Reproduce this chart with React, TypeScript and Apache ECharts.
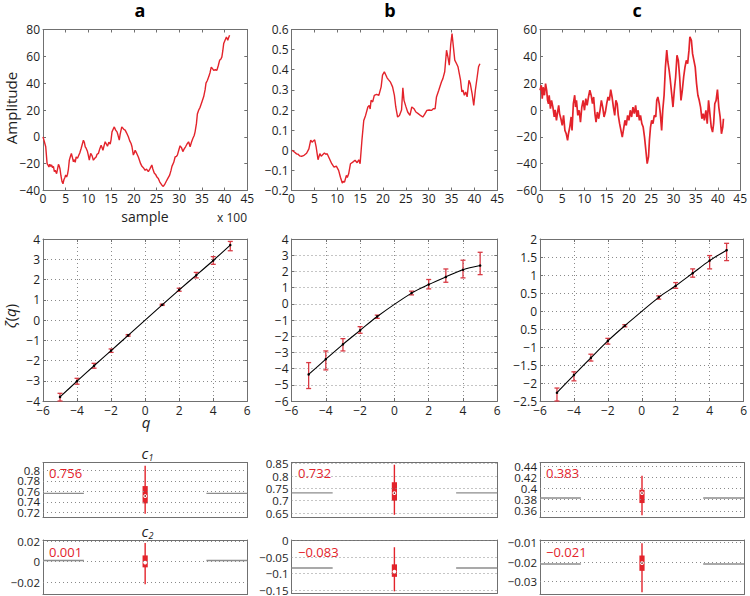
import React, { useEffect, useRef } from "react";
import * as echarts from "echarts";

// ---------- top row: amplitude vs sample (x 100) ----------
const sampleTicks = [0, 45, 5];
const seriesA: number[][] = [
  [0, 0], [0.3, -3.7], [0.6, -7.4], [0.9, -20], [1.1, -21], [1.3, -22.5], [1.5, -20.5], [1.7, -22], [1.9, -21], [2.1, -23],
  [2.3, -22], [2.5, -26], [2.7, -25], [3, -27.5], [3.2, -24], [3.4, -20.5], [3.6, -22], [3.75, -24], [3.95, -29], [4.2, -33.5],
  [4.4, -35], [4.6, -32], [4.8, -30.5], [5, -28.5], [5.2, -30], [5.4, -28], [5.6, -24], [5.8, -17.4], [6, -15], [6.25, -12.4],
  [6.45, -15], [6.7, -18.6], [6.9, -17], [7.1, -19], [7.3, -15], [7.6, -16], [7.9, -13.6], [8.1, -12], [8.4, -8.7], [8.7, -5],
  [8.9, -2.5], [9.1, -4], [9.3, -7.4], [9.5, -8.5], [9.8, -11], [10, -14], [10.2, -17.4], [10.5, -12.4], [10.8, -14], [11.1, -17.4],
  [11.4, -16], [11.7, -15], [11.9, -13], [12.2, -12.4], [12.5, -9], [12.8, -6.2], [13, -8], [13.2, -10], [13.5, -6], [13.7, -3.7],
  [13.9, -5], [14.2, -7], [14.5, -4], [14.8, -5.5], [15, -2], [15.2, 3.7], [15.5, 6], [15.7, 7.4], [16, 5], [16.3, 3.7],
  [16.5, 1.5], [16.8, -2.5], [17, 2], [17.35, 7.4], [17.6, 6.5], [17.8, 5.5], [18.1, 5], [18.4, 3], [18.8, 0], [19.1, -3],
  [19.4, -5], [19.6, -7.4], [19.9, -13.6], [20.1, -12], [20.3, -10], [20.6, -12], [21, -15], [21.3, -18], [21.5, -20], [21.8, -22],
  [22.1, -23], [22.5, -25], [22.8, -24], [23.2, -26], [23.6, -23.5], [23.97, -21], [24.2, -24], [24.5, -27], [24.8, -28], [25.1, -30],
  [25.4, -31], [25.7, -33.5], [26, -35], [26.2, -36], [26.5, -37], [26.8, -35.5], [27.1, -33.5], [27.5, -31], [27.9, -28.5], [28.2, -25],
  [28.4, -22], [28.8, -19], [29.1, -15], [29.4, -14.5], [29.6, -13.6], [29.9, -10], [30.2, -6.7], [30.5, -8], [30.8, -11], [31.1, -9],
  [31.4, -7.4], [31.7, -5.5], [32.06, -3.7], [32.2, -5], [32.4, -7.4], [32.7, -4], [33, -1.2], [33.3, 1], [33.5, 3.7], [33.8, 10],
  [34, 17], [34.3, 20], [34.6, 22], [35, 26], [35.4, 30], [35.7, 35], [35.9, 40], [36.2, 42], [36.5, 44.7], [36.8, 48],
  [37.06, 52], [37.3, 51], [37.6, 49.6], [38, 50], [38.3, 49.6], [38.6, 53], [38.9, 57], [39.2, 58], [39.4, 59.6], [39.6, 64],
  [39.8, 69.5], [40.1, 72], [40.4, 74.4], [40.7, 72], [40.9, 74], [41.1, 75.7],
];
const seriesB: number[][] = [
  [0.1, 0.0], [0.4, -0.005], [0.7, -0.01], [1.1, -0.018], [1.45, -0.02], [1.8, -0.028], [2.2, -0.03], [2.75, -0.025], [3.3, -0.015], [3.8, 0.007],
  [4.2, 0.05], [4.5, 0.04], [4.7, 0.045], [5.07, 0.052], [5.4, 0.015], [5.8, -0.047], [6.2, -0.017], [6.5, -0.03], [6.7, -0.025], [7.2, -0.014],
  [7.5, -0.02], [7.8, -0.017], [8.3, -0.042], [8.8, -0.067], [9.3, -0.084], [9.8, -0.079], [10.3, -0.1], [10.7, -0.134], [11.1, -0.163], [11.3, -0.155],
  [11.6, -0.158], [12, -0.125], [12.2, -0.135], [12.5, -0.117], [12.9, -0.067], [13.4, -0.059], [13.9, -0.05], [14.35, -0.062], [14.7, -0.047], [15, -0.067],
  [15.4, 0.05], [15.8, 0.148], [16.2, 0.173], [16.7, 0.215], [17.0, 0.223], [17.2, 0.205], [17.4, 0.248], [17.75, 0.24], [18.1, 0.273], [18.6, 0.278],
  [19.1, 0.273], [19.6, 0.315], [19.9, 0.373], [20.3, 0.39], [20.65, 0.373], [20.9, 0.36], [21.2, 0.351], [21.6, 0.34], [22.1, 0.315], [22.5, 0.273],
  [22.8, 0.215], [23.2, 0.165], [23.6, 0.173], [24.06, 0.2], [24.35, 0.31], [24.6, 0.248], [25, 0.218], [25.4, 0.19], [25.9, 0.173], [26.3, 0.215],
  [26.8, 0.206], [27.2, 0.19], [27.7, 0.182], [28.2, 0.173], [28.7, 0.165], [29.1, 0.178], [29.6, 0.198], [30.1, 0.2], [30.6, 0.198], [31.0, 0.206],
  [31.4, 0.206], [31.7, 0.265], [32.2, 0.298], [32.8, 0.34], [33.1, 0.356], [33.5, 0.39], [33.9, 0.497], [34.2, 0.464], [34.5, 0.423], [34.8, 0.522],
  [35.1, 0.58], [35.4, 0.514], [35.7, 0.448], [36.1, 0.43], [36.4, 0.415], [36.7, 0.38], [36.96, 0.348], [37.25, 0.29], [37.5, 0.298], [37.8, 0.273],
  [38.1, 0.29], [38.4, 0.265], [38.8, 0.348], [39.1, 0.33], [39.5, 0.28], [39.85, 0.223], [40.2, 0.298], [40.6, 0.364], [40.9, 0.415], [41.2, 0.43],
];
const seriesC: number[][] = [
  [0, 14.7], [0.3, 18.4], [0.5, 8.5], [0.7, 17], [1.0, 11], [1.25, 19.7], [1.5, 14.7], [1.7, 7.2], [1.9, 4.7], [2.06, 11],
  [2.35, 1], [2.6, 7.2], [2.9, 2.2], [3.2, -5.2], [3.4, 0.2], [3.7, -7.7], [3.9, -2.7], [4.2, 3.5], [4.4, -2.7], [4.7, -6.5],
  [5, -11.5], [5.3, -4], [5.6, -15.2], [5.9, -17.7], [6.2, -22.7], [6.4, -17.7], [6.7, -12.7], [7, -5.2], [7.2, -15.2], [7.5, 4.7],
  [7.8, 11], [8.0, 2.2], [8.2, 7.2], [8.5, -4], [8.8, -0.2], [9.1, -9], [9.4, 2.2], [9.7, 7.2], [10, -0.2], [10.3, 8.5],
  [10.6, 3.5], [10.9, 9.7], [11.2, 14.7], [11.5, 11], [11.8, 4.7], [12.06, 9.7], [12.35, -2.7], [12.6, -9], [12.9, -1.5], [13.2, -6.5],
  [13.5, -0.2], [13.8, 7.2], [14.1, 2.2], [14.4, -5.2], [14.7, -1.5], [15, 4.7], [15.3, 9.7], [15.6, 7.2], [15.9, 15.2], [16.2, 9.7],
  [16.5, 2.2], [16.8, -4], [17.06, 7.2], [17.35, 4.7], [17.6, -4], [17.9, -10.2], [18.2, -15.2], [18.5, -20.2], [18.8, -14], [19.1, -7.7],
  [19.4, -11.5], [19.7, -4], [20, -7.7], [20.3, -0.2], [20.6, -5.2], [20.9, 2.2], [21.2, -2.7], [21.5, 3.5], [21.8, -5.2], [22.06, -0.2],
  [22.35, -7.7], [22.6, -4], [22.9, -10.2], [23.2, -12.7], [23.5, -20.2], [23.8, -30], [24.1, -40], [24.4, -35], [24.6, -22.7], [24.85, -12.7],
  [25.1, -7.7], [25.4, -10.2], [25.7, -4], [26.03, -5.2], [26.25, 7.2], [26.5, 9.7], [26.8, 4.7], [27.06, -2.7], [27.35, -15.2], [27.6, -0.2],
  [27.9, 11], [28.2, 32], [28.5, 44.6], [28.75, 35.8], [29.04, 29.6], [29.3, 22.2], [29.6, 12.2], [29.9, 2.2], [30.2, 14.7], [30.5, 24.6],
  [30.8, 40.8], [31.1, 37], [31.4, 24.6], [31.7, 7.2], [32, 14.7], [32.3, 24.6], [32.6, 32], [32.9, 37], [33.2, 34.6], [33.5, 44.6],
  [33.7, 54.5], [34.04, 52], [34.3, 42], [34.6, 37], [34.9, 32], [35.2, 19.7], [35.5, 11], [35.8, 7.2], [36.1, 2.2], [36.4, -6.5],
  [36.7, -2.7], [36.96, -7.7], [37.3, -0.2], [37.6, -10.2], [37.9, 7.2], [38.2, -2.7], [38.5, -12.7], [38.8, -16.5], [39.04, -10.2], [39.3, 4.7],
  [39.6, 7.2], [39.9, 15.2], [40.2, 2.2], [40.5, -5.2], [40.8, -17.7], [41.1, -12.7], [41.25, -6.5],
];
const ampAxisA = [-40, 80, 20];
const ampAxisB = [-0.2, 0.6, 0.1];
const ampAxisC = [-60, 60, 20];

// ---------- middle row: zeta(q) ----------
const qValues = [-5, -4, -3, -2, -1, 1, 2, 3, 4, 5];
const qAxis = [-6, 6, 2];
const zetaA = [-3.8, -3.02, -2.26, -1.51, -0.76, 0.75, 1.49, 2.21, 2.94, 3.7];
const zetaALow = [-4.0, -3.17, -2.38, -1.6, -0.8, 0.72, 1.42, 2.08, 2.75, 3.42];
const zetaAHigh = [-3.62, -2.88, -2.14, -1.43, -0.72, 0.78, 1.57, 2.35, 3.13, 3.88];
const zetaB = [-4.36, -3.42, -2.5, -1.64, -0.78, 0.66, 1.19, 1.66, 2.1, 2.36];
const zetaBLow = [-5.23, -4.08, -2.91, -1.82, -0.9, 0.55, 0.92, 1.33, 1.6, 1.8];
const zetaBHigh = [-3.63, -2.91, -2.15, -1.41, -0.7, 0.78, 1.5, 2.15, 2.69, 3.18];
const zetaC = [-2.27, -1.78, -1.3, -0.83, -0.41, 0.38, 0.7, 1.05, 1.4, 1.69];
const zetaCLow = [-2.5, -1.94, -1.39, -0.92, -0.44, 0.33, 0.63, 0.94, 1.17, 1.4];
const zetaCHigh = [-2.14, -1.69, -1.2, -0.76, -0.38, 0.42, 0.79, 1.17, 1.54, 1.88];
const zetaAxisA = [-4, 4, 1];
const zetaAxisB = [-6, 4, 1];
const zetaAxisC = [-2.5, 2, 0.5];

// ---------- bottom rows: c1, c2 box plots [min, q1, median, q3, max] ----------
const c1Estimates = [0.756, 0.732, 0.383];
const c2Estimates = [0.001, -0.083, -0.021];
const c1BoxA = [0.717, 0.737, 0.751, 0.77, 0.809];
const c1BoxB = [0.643, 0.7, 0.731, 0.775, 0.846];
const c1BoxC = [0.352, 0.374, 0.392, 0.398, 0.423];
const c2BoxA = [-0.022, -0.0056, -0.001, 0.006, 0.018];
const c2BoxB = [-0.154, -0.11, -0.094, -0.072, -0.02];
const c2BoxC = [-0.0356, -0.0245, -0.0205, -0.0166, -0.0103];
const c1RangeA = [0.71, 0.815];
const c1RangeB = [0.632, 0.855];
const c1RangeC = [0.348, 0.447];
const c2RangeA = [-0.032, 0.021];
const c2RangeB = [-0.16, 0.002];
const c2RangeC = [-0.0367, -0.0086];
const c1TicksA = [0.72, 0.74, 0.76, 0.78, 0.8];
const c1TicksB = [0.65, 0.7, 0.75, 0.8, 0.85];
const c1TicksC = [0.36, 0.38, 0.4, 0.42, 0.44];
const c2TicksA = [-0.02, 0, 0.02];
const c2TicksB = [-0.15, -0.1, -0.05, 0];
const c2TicksC = [-0.03, -0.02, -0.01];

const FONT = '"Open Sans", "Noto Sans", "DejaVu Sans", sans-serif';
const RED = "#e3232b";
const ERR = "#d83a44";
const AX = "#707070";
const TXT = "#1e1e1e";

const fmt = (v: number) => {
  const r = Math.round(v * 10000) / 10000;
  return r < 0 ? "\u2212" + String(-r) : String(r);
};

function buildOption() {
  const grid: any[] = [];
  const xAxis: any[] = [];
  const yAxis: any[] = [];
  const series: any[] = [];

  const addPanel = (box: number[], xc: any, yc: any, kind: string) => {
    const gi = grid.length;
    grid.push({ left: box[0], top: box[1], width: box[2], height: box[3], show: false });
    const xi = xAxis.length;
    const yi = yAxis.length;
    const tick = { show: kind !== "box", inside: true, length: 3, lineStyle: { color: AX, width: 1 } };
    const line = { show: true, onZero: false, lineStyle: { color: AX, width: 1 } };
    const dotted = { show: kind === "zeta", lineStyle: { type: [1, 3], color: "#8a8a8a", width: 1 } };
    const label = { color: TXT, fontFamily: FONT, fontSize: kind === "box" ? 11.5 : 12 };
    xAxis.push({
      type: "value", gridIndex: gi, position: "bottom", min: xc.min, max: xc.max, interval: xc.interval,
      axisLine: line, axisTick: tick, splitLine: dotted,
      axisLabel: { ...label, show: kind !== "box", margin: kind === "ts" ? 2 : 3, formatter: fmt, showMinLabel: true, showMaxLabel: true },
    });
    xAxis.push({
      type: "value", gridIndex: gi, position: "top", min: xc.min, max: xc.max, interval: xc.interval,
      axisLine: line, axisTick: tick, splitLine: { show: false }, axisLabel: { show: false },
    });
    // for box panels the tick labels are split over two stacked left axes (even / odd ticks)
    const evenTicks = yc.custom ? yc.custom.filter((_: number, i: number) => i % 2 === 0) : undefined;
    const oddTicks = yc.custom ? yc.custom.filter((_: number, i: number) => i % 2 === 1) : undefined;
    yAxis.push({
      type: "value", gridIndex: gi, position: "left", min: yc.min, max: yc.max, interval: yc.interval,
      axisLine: line, axisTick: tick, splitLine: dotted,
      axisLabel: {
        ...label, margin: 3, formatter: yc.formatter || fmt, customValues: evenTicks,
        showMinLabel: true, showMaxLabel: true,
      },
    });
    yAxis.push({
      type: "value", gridIndex: gi, position: "right", min: yc.min, max: yc.max, interval: yc.interval,
      axisLine: line, axisTick: tick, splitLine: { show: false }, axisLabel: { show: false },
    });
    if (oddTicks && oddTicks.length) {
      yAxis.push({
        type: "value", gridIndex: gi, position: "left", offset: 0, min: yc.min, max: yc.max,
        axisLine: { show: false }, axisTick: { show: false }, splitLine: { show: false },
        axisLabel: { ...label, margin: 3, formatter: fmt, customValues: oddTicks, showMinLabel: true, showMaxLabel: true },
      });
    }
    return { xAxisIndex: xi, yAxisIndex: yi };
  };

  const colLeft = [43, 291.5, 540];
  const colWidth = [204.3, 205.8, 204];
  const rowTop = [29.5, 239, 462.5, 540];
  const rowHeight = [161, 162, 55, 54.5];

  // top row
  const tsData = [seriesA, seriesB, seriesC];
  const tsAxes = [ampAxisA, ampAxisB, ampAxisC];
  const tsWidth = [1.4, 1.4, 1.7];
  for (let c = 0; c < 3; c++) {
    const idx = addPanel(
      [colLeft[c], rowTop[0], colWidth[c], rowHeight[0]],
      { min: sampleTicks[0], max: sampleTicks[1], interval: sampleTicks[2] },
      { min: tsAxes[c][0], max: tsAxes[c][1], interval: tsAxes[c][2] },
      "ts"
    );
    series.push({
      type: "line", ...idx, data: tsData[c], showSymbol: false, symbol: "none",
      lineStyle: { color: RED, width: tsWidth[c] }, z: 3,
    });
  }

  // middle row
  const zeta = [zetaA, zetaB, zetaC];
  const zLow = [zetaALow, zetaBLow, zetaCLow];
  const zHigh = [zetaAHigh, zetaBHigh, zetaCHigh];
  const zAxes = [zetaAxisA, zetaAxisB, zetaAxisC];
  for (let c = 0; c < 3; c++) {
    const idx = addPanel(
      [colLeft[c], rowTop[1], colWidth[c], rowHeight[1]],
      { min: qAxis[0], max: qAxis[1], interval: qAxis[2] },
      {
        min: zAxes[c][0], max: zAxes[c][1], interval: zAxes[c][2],
        formatter: c === 2 ? (v: number) => (Math.abs(v + 0.5) < 1e-9 ? "0.5" : fmt(v)) : fmt,
      },
      "zeta"
    );
    series.push({
      type: "custom", ...idx, z: 3,
      data: qValues.map((q, i) => [q, zLow[c][i], zHigh[c][i]]),
      encode: { x: 0, y: [1, 2] },
      renderItem: (params: any, api: any) => {
        const x = api.value(0);
        const lo = api.coord([x, api.value(1)]);
        const hi = api.coord([x, api.value(2)]);
        const w = 2.5;
        const st = { stroke: ERR, lineWidth: 1.3 };
        return {
          type: "group",
          children: [
            { type: "line", shape: { x1: lo[0], y1: lo[1], x2: hi[0], y2: hi[1] }, style: st },
            { type: "line", shape: { x1: lo[0] - w, y1: lo[1], x2: lo[0] + w, y2: lo[1] }, style: st },
            { type: "line", shape: { x1: hi[0] - w, y1: hi[1], x2: hi[0] + w, y2: hi[1] }, style: st },
          ],
        };
      },
    });
    series.push({
      type: "line", ...idx, z: 4, smooth: 0.3,
      data: qValues.map((q, i) => [q, zeta[c][i]]),
      symbol: "circle", symbolSize: 2.5, showSymbol: true,
      itemStyle: { color: "#000" }, lineStyle: { color: "#000", width: 1.1 },
    });
  }

  // bottom rows
  const boxes = [[c1BoxA, c1BoxB, c1BoxC], [c2BoxA, c2BoxB, c2BoxC]];
  const ranges = [[c1RangeA, c1RangeB, c1RangeC], [c2RangeA, c2RangeB, c2RangeC]];
  const ticks = [[c1TicksA, c1TicksB, c1TicksC], [c2TicksA, c2TicksB, c2TicksC]];
  const ests = [c1Estimates, c2Estimates];
  for (let r = 0; r < 2; r++) {
    for (let c = 0; c < 3; c++) {
      const idx = addPanel(
        [colLeft[c], rowTop[2 + r], colWidth[c], rowHeight[2 + r]],
        { min: 0, max: 1 },
        { min: ranges[r][c][0], max: ranges[r][c][1], custom: ticks[r][c] },
        "box"
      );
      const v = ests[r][c];
      series.push({
        type: "line", ...idx, z: 2, symbol: "none", showSymbol: false,
        data: [[0, v], [0.2, v]], lineStyle: { color: "#8c8c8c", width: 1.4 },
        markLine: {
          silent: true, symbol: ["none", "none"], label: { show: false },
          lineStyle: { type: [1, 3], color: "#8a8a8a", width: 1 },
          data: ticks[r][c].map((t) => ({ yAxis: t })),
        },
      });
      series.push({
        type: "line", ...idx, z: 2, symbol: "none", showSymbol: false,
        data: [[0.8, v], [1, v]], lineStyle: { color: "#8c8c8c", width: 1.4 },
      });
      const b = boxes[r][c];
      series.push({
        type: "custom", ...idx, z: 4,
        data: [[0.5, b[0], b[1], b[2], b[3], b[4]]],
        encode: { x: 0, y: [1, 2, 3, 4, 5] },
        renderItem: (params: any, api: any) => {
          const x = api.value(0);
          const lo = api.coord([x, api.value(1)]);
          const q1 = api.coord([x, api.value(2)]);
          const md = api.coord([x, api.value(3)]);
          const q3 = api.coord([x, api.value(4)]);
          const hi = api.coord([x, api.value(5)]);
          return {
            type: "group",
            children: [
              { type: "line", shape: { x1: lo[0], y1: lo[1], x2: hi[0], y2: hi[1] }, style: { stroke: RED, lineWidth: 1.4 } },
              { type: "rect", shape: { x: q3[0] - 2.6, y: q3[1], width: 5.2, height: q1[1] - q3[1] }, style: { fill: RED } },
              { type: "circle", shape: { cx: md[0], cy: md[1], r: 1.9 }, style: { fill: "#fff" } },
              { type: "circle", shape: { cx: md[0], cy: md[1], r: 0.8 }, style: { fill: "#7a1a1a" } },
            ],
          };
        },
      });
    }
  }

  const txt = (x: number, y: number, text: string, extra: any = {}) => ({
    type: "text", x, y, silent: true,
    style: { text, fontFamily: FONT, fontSize: 14, fill: TXT, align: "center", verticalAlign: "middle", ...extra },
  });

  const valueLabels: any[] = [];
  const labelX = [49, 298, 546];
  const labelY = [473, 551.5];
  for (let r = 0; r < 2; r++) {
    for (let c = 0; c < 3; c++) {
      valueLabels.push(txt(labelX[c], labelY[r], fmt(ests[r][c]), { fill: RED, fontSize: 13, align: "left" }));
    }
  }

  const bold = { fontSize: 18, fontWeight: "bold", fill: "#000", lineHeight: 14 };
  const graphic = [
    txt(140, 9.5, "a", bold),
    txt(390, 9.5, "b", bold),
    txt(637, 9.5, "c", bold),
    { ...txt(11, 108, "Amplitude", { fontSize: 15 }), rotation: Math.PI / 2 },
    txt(145, 216, "sample", { fontSize: 14 }),
    txt(232, 217, "x 100", { fontSize: 12 }),
    {
      ...txt(10, 316, "{i|ζ}({i|q})", { fontSize: 15, rich: { i: { fontStyle: "italic", fontSize: 15, fontFamily: FONT, fill: TXT } } }),
      rotation: Math.PI / 2,
    },
    txt(146, 422, "q", { fontSize: 15, fontStyle: "italic", lineHeight: 12 }),
    txt(145, 453, "c", { fontSize: 15, fontStyle: "italic" }),
    txt(151, 457, "1", { fontSize: 9, fontStyle: "italic" }),
    txt(145, 531, "c", { fontSize: 15, fontStyle: "italic" }),
    txt(151, 535, "2", { fontSize: 9, fontStyle: "italic" }),
    ...valueLabels,
  ];

  return {
    animation: false,
    backgroundColor: "#fff",
    grid, xAxis, yAxis, series, graphic,
  };
}

export default function App() {
  const ref = useRef<HTMLDivElement>(null);
  useEffect(() => {
    const chart = echarts.init(ref.current!, null, { renderer: "svg" });
    chart.setOption(buildOption() as any);
    return () => chart.dispose();
  }, []);
  return (
    <div
      ref={ref}
      style={{ position: "fixed", left: 0, top: 0, width: 750, height: 596, background: "#fff" }}
    />
  );
}
